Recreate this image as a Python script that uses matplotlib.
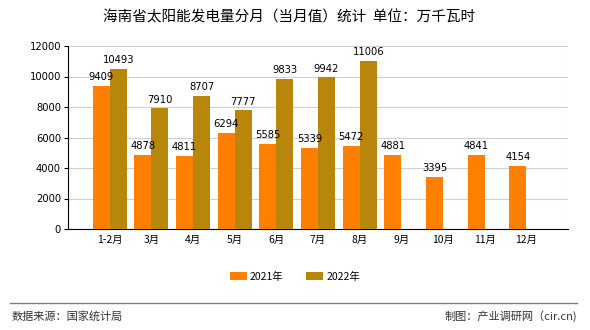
import matplotlib
matplotlib.use("Agg")
import matplotlib.pyplot as plt
import numpy as np

plt.rcParams['font.family'] = ['Noto Sans CJK SC', 'DejaVu Sans']

categories = ["1-2月", "3月", "4月", "5月", "6月", "7月", "8月", "9月", "10月", "11月", "12月"]
values_2021 = [9409, 4878, 4811, 6294, 5585, 5339, 5472, 4881, 3395, 4841, 4154]
values_2022 = [10493, 7910, 8707, 7777, 9833, 9942, 11006, None, None, None, None]
series_names = ["2021年", "2022年"]
yticks = [0, 2000, 4000, 6000, 8000, 10000, 12000]

c1 = "#FF8000"
c2 = "#B8860B"

fig = plt.figure(figsize=(5.9, 3.3), dpi=100)
ax = fig.add_axes([68/590, 1-229/330, 500/590, (229-46)/330])

x = np.arange(1, len(categories)+1)
w = 0.41
b1 = ax.bar(x - w/2, values_2021, width=w, color=c1, label=series_names[0], zorder=3)
x2 = [xi for xi, v in zip(x, values_2022) if v is not None]
v2 = [v for v in values_2022 if v is not None]
b2 = ax.bar(np.array(x2) + w/2, v2, width=w, color=c2, label=series_names[1], zorder=3)

for xi, v in zip(x, values_2021):
    ax.text(xi - w/2, v + 250, str(v), ha='center', va='bottom', fontsize=7.2, family='DejaVu Sans', zorder=4)
for xi, v in zip(x2, v2):
    ax.text(xi + w/2, v + 250, str(v), ha='center', va='bottom', fontsize=7.2, family='DejaVu Sans', zorder=4)

ax.set_xlim(0, 12)
ax.set_ylim(0, 12000)
ax.set_yticks(yticks)
ax.set_yticklabels([str(t) for t in yticks], fontsize=7.2, family='DejaVu Sans')
ax.set_xticks(x)
ax.set_xticklabels(categories, fontsize=7.5)
ax.set_xticks(np.arange(0, 13), minor=True)
ax.tick_params(axis='x', which='major', length=0, pad=4)
ax.tick_params(axis='x', which='minor', length=0)
ax.tick_params(axis='y', length=3, pad=2)
ax.grid(True, which='major', axis='y', color='#d0d0d0', lw=0.8, zorder=0)
ax.grid(True, which='minor', axis='x', color='#d0d0d0', lw=0.8, zorder=0)
for s in ['top', 'right']:
    ax.spines[s].set_visible(False)
for s in ['left', 'bottom']:
    ax.spines[s].set_color('black')
    ax.spines[s].set_linewidth(0.8)

fig.text(0.49, 1-17/330, "海南省太阳能发电量分月（当月值）统计  单位：万千瓦时", ha='center', va='center', fontsize=10.5)

leg = fig.legend(handles=[b1, b2], labels=series_names, loc='center', bbox_to_anchor=(0.5, 1-277/330),
                 ncol=2, frameon=False, fontsize=7.5, handlelength=1.6, handleheight=0.8,
                 columnspacing=2.2, handletextpad=0.3)

fig.add_artist(plt.Line2D([10/590, 577/590], [1-303/330, 1-303/330], color='#808080', lw=1))
fig.text(12/590, 1-316/330, "数据来源：国家统计局", ha='left', va='center', fontsize=8, color='#333333')
fig.text(577/590, 1-316/330, "制图：产业调研网（cir.cn)", ha='right', va='center', fontsize=8, color='#333333')

fig.savefig("out.png", dpi=100)
